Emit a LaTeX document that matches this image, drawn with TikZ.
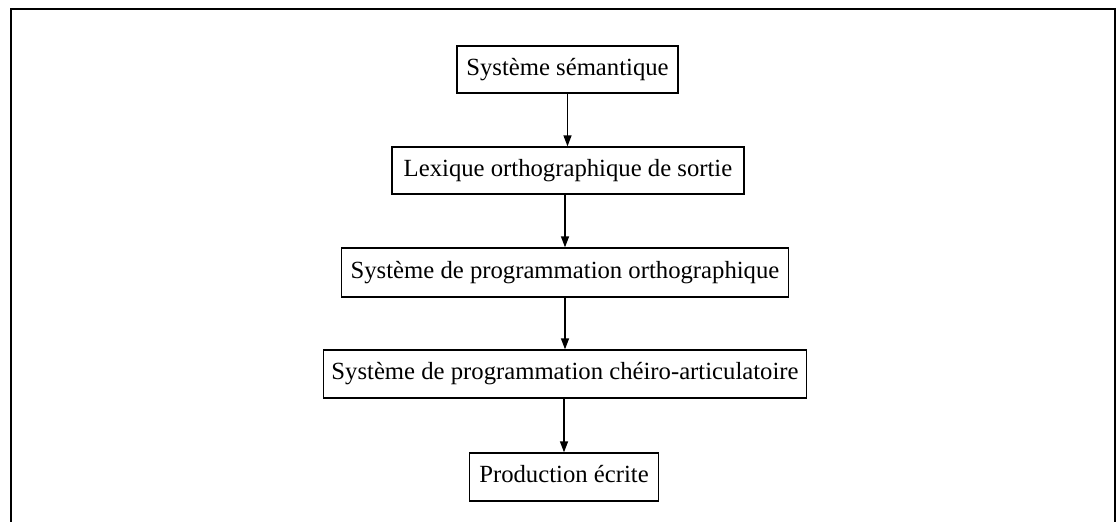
\documentclass[tikz,border=0pt]{standalone}
\usepackage{fontspec}
\setmainfont{Liberation Serif}
\usetikzlibrary{arrows.meta}
\tikzset{
  boxnode/.style={draw=black, line width=1.3pt, inner sep=0pt, font=\fontsize{24.7}{28}\selectfont, text height=16pt, text depth=5pt},
  flow/.style={line width=1.3pt, -{Triangle[length=11pt,width=8pt]}}
}
\begin{document}
\begin{tikzpicture}[x=1pt,y=-1pt]
\useasboundingbox (0,0) rectangle (1119,522);
\fill[white] (0,0) rectangle (1119,522);
\draw[line width=2pt] (11,540) -- (11,8.5) -- (1115,8.5) -- (1115,540);
\node[boxnode, minimum width=221pt, minimum height=47pt] (a) at (567.5,69.5) {Système sémantique};
\node[boxnode, minimum width=352pt, minimum height=47pt] (b) at (568,170.5) {Lexique orthographique de sortie};
\node[boxnode, minimum width=447pt, minimum height=49pt] (c) at (565,272.5) {Système de programmation orthographique};
\node[boxnode, minimum width=483pt, minimum height=48pt] (d) at (565,374) {Système de programmation chéiro-articulatoire};
\node[boxnode, minimum width=189pt, minimum height=48pt] (e) at (564,477) {Production écrite};
\draw[flow] (a.south) -- (a.south |- b.north);
\draw[flow] (b.south -| c.north) -- (c.north);
\draw[flow] (c.south) -- (d.north);
\draw[flow] (d.south -| e.north) -- (e.north);
\end{tikzpicture}
\end{document}
